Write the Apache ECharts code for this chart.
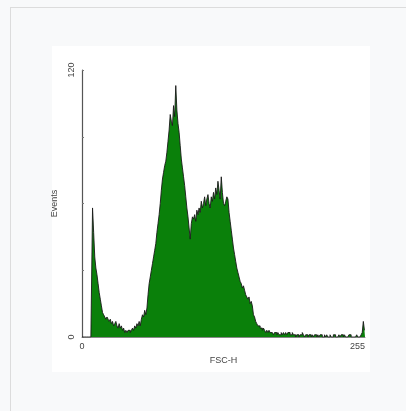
<!DOCTYPE html>
<html>
<head>
<meta charset="utf-8">
<script src="https://cdn.jsdelivr.net/npm/echarts@6/dist/echarts.min.js"></script>
<style>
    html, body { margin: 0; padding: 0; background: #f8f9fa; }
    #panel { position: absolute; left: 10px; top: 7px; width: 396px; height: 404px;
             border-left: 1px solid #dcdcdc; border-top: 1px solid #dcdcdc; background: #f8f9fa; }
    #plotbg { position: absolute; left: 52px; top: 46px; width: 318px; height: 326px; background: #ffffff; }
    #chart { position: absolute; left: 0; top: 0; width: 406px; height: 411px; }
</style>
</head>
<body>
<div id="panel"></div>
<div id="plotbg"></div>
<div id="chart"></div>
<script>
// FSC-H 通道 0..255 的事件数
var channel_events = [
    0, 0, 0, 0, 0, 0, 0, 0, 0, 0,
    58, 47, 36, 31, 28, 24, 20, 17, 14, 11,
    10, 9, 8, 9, 8, 7, 8, 6, 7, 5,
    6, 7, 5, 4, 6, 4, 5, 3, 4, 2,
    3, 2, 3, 3, 2, 3, 4, 3, 5, 4,
    6, 5, 7, 5, 8, 10, 9, 12, 10, 13,
    19, 24, 27, 30, 33, 36, 39, 42, 47, 51,
    55, 60, 66, 71, 74, 77, 79, 83, 88, 93,
    100, 97, 95, 104, 99, 113, 102, 96, 92, 86,
    80, 76, 72, 68, 63, 58, 54, 49, 44, 51,
    54, 53, 55, 52, 57, 55, 58, 56, 61, 58,
    60, 63, 59, 62, 64, 60, 58, 63, 61, 65,
    62, 67, 64, 70, 66, 62, 72, 65, 60, 59,
    61, 63, 62, 56, 52, 48, 44, 40, 37, 34,
    31, 29, 27, 25, 24, 22, 23, 21, 19, 18,
    17, 18, 15, 16, 14, 10, 9, 7, 6, 5,
    5, 4, 4, 3, 4, 3, 2, 3, 2, 3,
    2, 2, 2, 1, 2, 2, 1, 2, 1, 1,
    2, 1, 2, 1, 2, 1, 2, 2, 1, 1,
    2, 1, 1, 0, 1, 1, 0, 1, 1, 2,
    1, 0, 1, 1, 0, 1, 1, 0, 1, 0,
    1, 1, 0, 1, 0, 1, 1, 0, 0, 1,
    0, 1, 0, 0, 1, 0, 0, 1, 1, 0,
    0, 0, 1, 0, 1, 1, 0, 1, 0, 0,
    0, 1, 1, 0, 0, 0, 0, 0, 1, 0,
    0, 0, 1, 2, 7, 3
];
var x_min = 0;
var x_max = 255;
var y_min = 0;
var y_max = 120;
var y_step = 30;

var chart = echarts.init(document.getElementById('chart'), null, { renderer: 'canvas' });

var series_data = [];
for (var i = 0; i < channel_events.length; i++) {
    series_data.push([i, channel_events[i]]);
}

var label_style = { color: '#444', fontSize: 9, fontFamily: 'Liberation Sans' };

var option = {
    animation: false,
    backgroundColor: 'transparent',
    grid: { left: 82, right: 41, top: 70, bottom: 74 },
    xAxis: {
        type: 'value',
        min: x_min,
        max: x_max,
        interval: 255,
        name: 'FSC-H',
        nameLocation: 'middle',
        nameGap: 19,
        nameTextStyle: label_style,
        axisLine: { lineStyle: { color: '#888', width: 1 } },
        axisTick: { show: false },
        splitLine: { show: false },
        axisLabel: Object.assign({ margin: 5, alignMaxLabel: 'right' }, label_style)
    },
    yAxis: {
        type: 'value',
        min: y_min,
        max: y_max,
        interval: y_step,
        name: 'Events',
        nameLocation: 'middle',
        nameGap: 19,
        nameTextStyle: label_style,
        axisLine: { show: true, lineStyle: { color: '#555', width: 1.2 } },
        axisTick: { show: true, inside: true, length: 2, lineStyle: { color: '#777' } },
        splitLine: { show: false },
        axisLabel: Object.assign({
            margin: 6,
            rotate: 90,
            formatter: function(value) {
                return (value === y_min || value === y_max) ? String(value) : '';
            }
        }, label_style)
    },
    series: [{
        type: 'line',
        step: 'middle',
        data: series_data,
        symbol: 'none',
        lineStyle: { color: '#1a1a1a', width: 0.9 },
        areaStyle: { color: '#0a800a', opacity: 1 }
    }]
};
chart.setOption(option);
</script>
</body>
</html>
